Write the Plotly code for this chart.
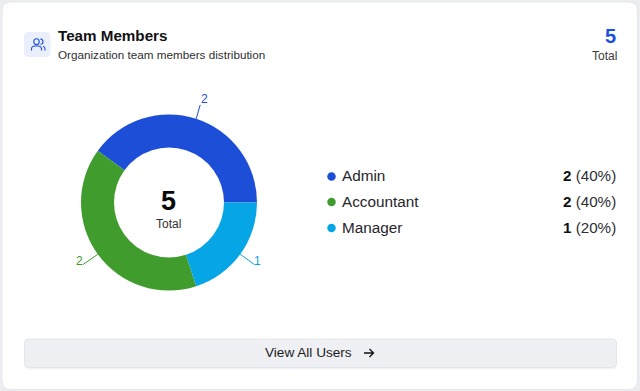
import math
import plotly.graph_objects as go

categories = ["Admin", "Accountant", "Manager"]
values = [2, 2, 1]
percent_labels = ["(40%)", "(40%)", "(20%)"]
colors = ["#1d4ed8", "#3f9c2d", "#06a5e6"]
total_value = 5
title_text = "Team Members"
subtitle_text = "Organization team members distribution"
total_label = "Total"
button_text = "View All Users"

W, H = 640, 391
FONT = "Liberation Sans, Arial, sans-serif"
cx, cy, R = 169, 202.5, 88

fig = go.Figure()


def rrect(x0, y0, x1, y1, r):
    return (f"M{x0+r},{y0} L{x1-r},{y0} Q{x1},{y0} {x1},{y0+r} L{x1},{y1-r} Q{x1},{y1} {x1-r},{y1} "
            f"L{x0+r},{y1} Q{x0},{y1} {x0},{y1-r} L{x0},{y0+r} Q{x0},{y0} {x0+r},{y0} Z")


shapes = []
annotations = []


def text(x, y, s, size, color, anchor="left", weight=None):
    annotations.append(dict(
        x=x, y=y, xref="x", yref="y", text=f"<b>{s}</b>" if weight else s, showarrow=False,
        xanchor=anchor, yanchor="middle", align=anchor,
        font=dict(family=FONT, size=size, color=color),
        borderpad=0, borderwidth=0,
    ))


def path(d, fill=None, line=None, width=1, layer="above"):
    shapes.append(dict(type="path", path=d, xref="x", yref="y", layer=layer,
                       fillcolor=fill or "rgba(0,0,0,0)",
                       line=dict(color=line or "rgba(0,0,0,0)", width=width if line else 0)))


# card
path(rrect(2, 2, 637.5, 389.5, 9), fill="#ffffff", line="#e4e7ec", width=1, layer="below")

# header icon
path(rrect(24, 32, 50.5, 57, 5), fill="#eaeffb", layer="below")
icon = "#1d4ed8"
path("M31.5,50.5 L31.5,49 Q31.5,46 35,46 L38,46 Q41.5,46 41.5,49 L41.5,50.5", line=icon, width=1.1)
path("M33.8,41.8 Q33.8,38.8 36.5,38.8 Q39.2,38.8 39.2,41.8 Q39.2,44.6 36.5,44.6 Q33.8,44.6 33.8,41.8 Z", line=icon, width=1.1)
path("M40.5,38.9 Q43,39.5 43,41.7 Q43,43.9 40.5,44.5", line=icon, width=1.1)
path("M43,46.2 Q45,46.8 45,49 L45,50.5", line=icon, width=1.1)

text(58, 35.5, title_text, 15.2, "#111114", weight=True)
text(58, 54.5, subtitle_text, 11.7, "#2f2f33")
text(616, 35.5, str(total_value), 20, "#1a4fe0", anchor="right", weight=True)
text(616.5, 56, total_label, 12, "#3a3a3f", anchor="right")

# donut (a counterclockwise pie's first slice ends at "rotation" + its own sweep)
fig.add_trace(go.Pie(
    labels=categories, values=values, hole=0.625, sort=False, direction="counterclockwise",
    rotation=90 - 360 * values[0] / sum(values),
    marker=dict(colors=colors, line=dict(width=0)), textinfo="none",
    showlegend=False, hoverinfo="label+value",
    domain=dict(x=[(cx - R) / W, (cx + R) / W], y=[1 - (cy + R) / H, 1 - (cy - R) / H]),
))

# leader lines and slice labels, placed from each slice's value
end_offsets = [(4, -14), (-15, 10.5), (14.5, 10.5)]
label_offsets = [(8, -20), (-18.5, 7), (17.5, 7)]
cum = 0
for v, c, e, l in zip(values, colors, end_offsets, label_offsets):
    mid = math.radians((cum + v / 2) / sum(values) * 360)
    cum += v
    px, py = cx + R * math.cos(mid), cy - R * math.sin(mid)
    path(f"M{px},{py} L{px+e[0]},{py+e[1]}", line=c, width=1)
    text(px + l[0], py + l[1], str(v), 12, c, anchor="center")

text(cx - 1, 201, str(total_value), 27, "#0a0a0a", anchor="center", weight=True)
text(cx - 0.5, 224, total_label, 12, "#2f2f33", anchor="center")

# legend
row_y = [176.5, 202, 228]
fig.add_trace(go.Scatter(
    x=[331.5] * len(categories), y=row_y, mode="markers", showlegend=False, hoverinfo="skip",
    marker=dict(size=8.5, color=colors, line=dict(width=0)),
))
for name, v, pct, y in zip(categories, values, percent_labels, row_y):
    text(342, y - 1, name, 15.3, "#26262b")
    annotations.append(dict(
        x=618, y=y - 1, xref="x", yref="y", showarrow=False, xanchor="right", yanchor="middle",
        text=f"<b style='color:#111114'>{v}</b> {pct}",
        font=dict(family=FONT, size=15.2, color="#2f2f33"),
    ))

# button
path(rrect(24.5, 342, 616.5, 369.5, 4), fill="#f3f4f7", layer="below")
path(rrect(24.5, 339, 616.5, 367.5, 4), fill="#eff0f4", line="#e3e6ec", width=1, layer="below")
text(308.5, 352.5, button_text, 13.6, "#1c1c20", anchor="center")
path("M364,353 L373,353 M369.5,349 L373.5,353 L369.5,357", line="#111114", width=1.3)

fig.update_layout(
    width=W, height=H, margin=dict(l=0, r=0, t=0, b=0), autosize=False,
    paper_bgcolor="#ebedf1", plot_bgcolor="rgba(0,0,0,0)",
    xaxis=dict(range=[0, W], visible=False, fixedrange=True, domain=[0, 1]),
    yaxis=dict(range=[H, 0], visible=False, fixedrange=True, domain=[0, 1]),
    shapes=shapes, annotations=annotations, showlegend=False,
)
fig.write_html(
    "out.html",
    config=dict(displayModeBar=False),
    post_script="document.body.style.margin='0';document.documentElement.style.overflow='hidden';",
)
